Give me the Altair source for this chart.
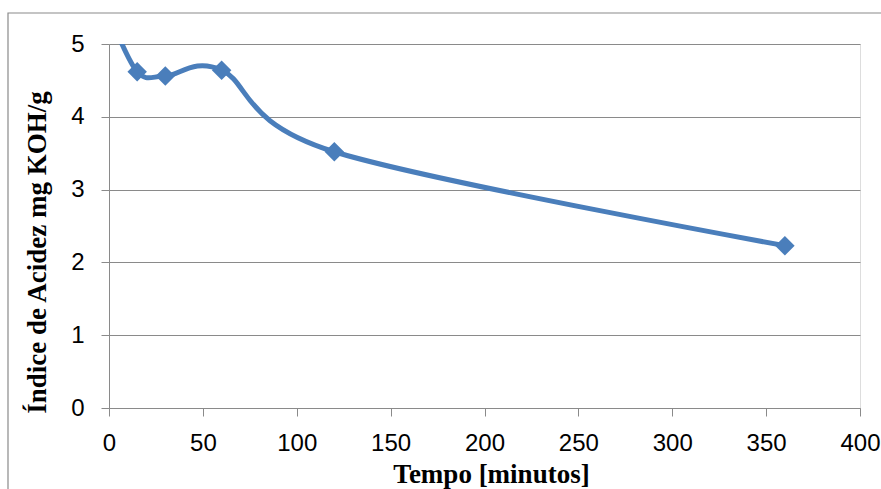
import altair as alt
import pandas as pd

tempo = [0, 15, 30, 60, 120, 360]
acidez = [5.42, 4.62, 4.56, 4.64, 3.52, 2.23]
x_ticks = [0, 50, 100, 150, 200, 250, 300, 350, 400]
y_ticks = [0, 1, 2, 3, 4, 5]

df = pd.DataFrame({"tempo": tempo, "acidez": acidez})

LABEL_FONT = "Liberation Sans"
TITLE_FONT = "Liberation Serif"
BLUE = "#4a7ebb"
GRAY = "#8a8a8a"

x = alt.X("tempo:Q", scale=alt.Scale(domain=[0, 400], nice=False),
          axis=alt.Axis(values=x_ticks, grid=False, title="Tempo [minutos]",
                        tickSize=8, labelPadding=15, labelFontSize=24, labelFlush=False,
                        labelFont=LABEL_FONT, labelColor="#000",
                        domainColor=GRAY, tickColor=GRAY,
                        titleFont=TITLE_FONT, titleFontSize=27, titleFontWeight="bold",
                        titleColor="#000", titleX=382, titleY=74,
                        titleBaseline="alphabetic", titleAlign="center"))
y = alt.Y("acidez:Q", scale=alt.Scale(domain=[0, 5], nice=False),
          axis=alt.Axis(values=y_ticks, grid=True, gridColor=GRAY, title="Índice de Acidez mg KOH/g",
                        tickSize=8, labelPadding=17, labelFontSize=24, labelFlush=False,
                        labelFont=LABEL_FONT, labelColor="#000",
                        domainColor=GRAY, tickColor=GRAY,
                        titleFont=TITLE_FONT, titleFontSize=27, titleFontWeight="bold",
                        titleColor="#000", titleX=-72, titleY=208, titleAngle=-90,
                        titleBaseline="middle", titleAlign="center"))

frame = alt.Chart(pd.DataFrame({"a": [0]})).mark_rect(
    fill=None, stroke=GRAY, strokeWidth=1.2
).encode(x=alt.value(-101), x2=alt.value(900), y=alt.value(-31), y2=alt.value(600))

line = alt.Chart(df).mark_line(
    interpolate="cardinal", tension=0, color=BLUE, strokeWidth=5, clip=True
).encode(x=x, y=y)

pts = alt.Chart(df).mark_point(
    shape="diamond", filled=True, opacity=1, color=BLUE, size=380, clip=True
).encode(x=x, y=y)

chart = alt.layer(frame, line, pts).properties(
    width=751, height=364,
    autosize=alt.AutoSizeParams(type="none"),
    padding={"left": 109, "top": 44, "right": 21, "bottom": 81},
).configure_view(stroke=None).configure(background="white")

chart.save("out.html", embed_options={"renderer": "svg", "actions": False})
